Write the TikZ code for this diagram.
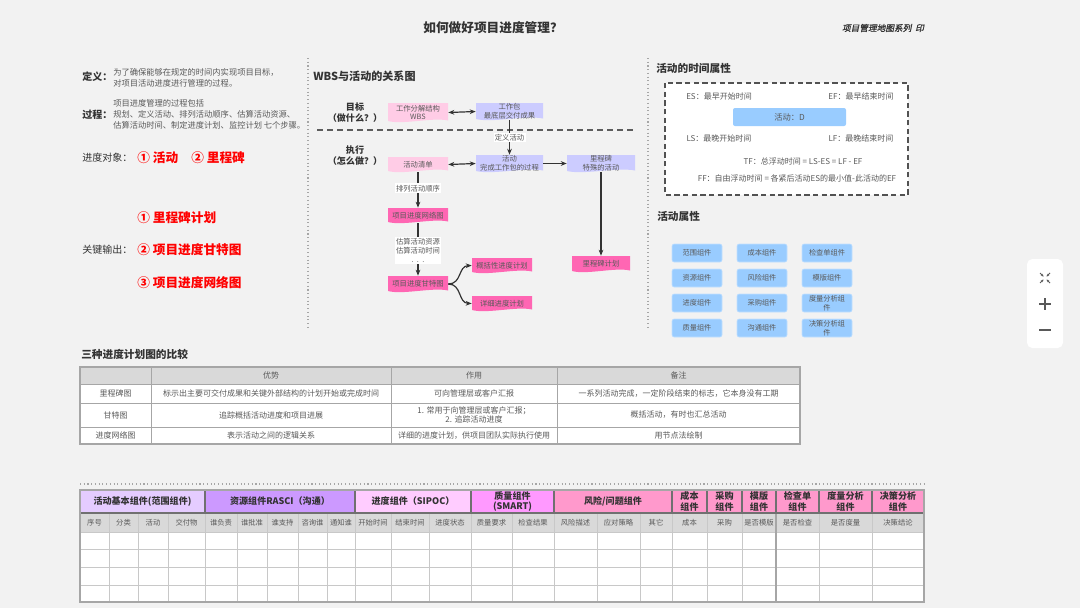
\documentclass[tikz,border=0pt]{standalone}
\usepackage{fontspec}
\setmainfont{Noto Sans CJK SC}
\newfontfamily\slfont[FakeSlant=0.2,FakeBold=1.2]{Noto Sans CJK SC}
\usetikzlibrary{arrows.meta,calc}
\definecolor{bg}{HTML}{F2F2F2}
\definecolor{ink}{HTML}{333333}
\definecolor{soft}{HTML}{595959}
\definecolor{lpink}{HTML}{FFCCE6}
\definecolor{lav}{HTML}{CCCCFF}
\definecolor{hpink}{HTML}{FF66B3}
\definecolor{sky}{HTML}{99CCFF}
\definecolor{hdr}{HTML}{D9D9D9}
\definecolor{grid}{HTML}{A6A6A6}
\definecolor{lgrid}{HTML}{C8C8C8}
\definecolor{dgrid}{HTML}{707070}
\definecolor{gA}{HTML}{E5CCFF}
\definecolor{gB}{HTML}{CC99FF}
\definecolor{gC}{HTML}{FFCCFF}
\definecolor{gD}{HTML}{FF99FF}
\definecolor{gE}{HTML}{FF99CC}
\definecolor{redc}{HTML}{FF0000}
\newcommand\fs[1]{\fontsize{#1pt}{\dimexpr#1pt*6/5\relax}\selectfont}
\newcommand\docbox[7]{%
 \fill[#6] ({#2-#4/2},{#3-#5/2}) -- ({#2+#4/2},{#3-#5/2}) -- ({#2+#4/2},{#3+#5/2-1.5}) .. controls ({#2+#4/4},{#3+#5/2-5}) and ({#2-#4/4},{#3+#5/2+3}) .. ({#2-#4/2},{#3+#5/2-1}) -- cycle;
 \node[boxt, minimum width={#4*0.75pt}, minimum height={#5*0.75pt}] (#1) at (#2,#3) {#7};
}
\begin{document}
\begin{tikzpicture}[x=0.75pt,y=-0.75pt,
 >={Stealth[length=4.5pt,width=3.5pt]},
 txt/.style={inner sep=0pt,text=soft,font=\fs{6.2}},
 headt/.style={inner sep=0pt,text=ink,font=\fs{8}\bfseries},
 redt/.style={inner sep=0pt,text=redc,font=\fs{9.5}\bfseries},
 boxt/.style={inner sep=0pt,text=soft,font=\fs{5.5},align=center},
 arr/.style={draw=ink, line width=0.9pt},
 lbl/.style={fill=white,inner sep=1pt,text=soft,font=\fs{5.5},align=center},
 sepline/.style={draw=grid, dotted, line width=0.8pt},
 attr/.style={fill=sky, draw=sky!60!white, rounded corners=1.5pt, minimum width=37.5pt, minimum height=13.5pt, inner sep=0pt, text=soft, font=\fs{5.4}, align=center},
 cell/.style={inner sep=0pt,text=soft,font=\fs{6},align=center},
 ghead/.style={inner sep=0pt,text=ink,font=\fs{6.8}\bfseries,align=center},
 shead/.style={inner sep=0pt,text=soft,font=\fs{5.5}},
]
\fill[bg] (0,0) rectangle (1080,608);
\useasboundingbox (0,0) rectangle (1080,608);

% title
\node[inner sep=0pt,text=ink,font=\fs{9.5}\bfseries] (title) at (493,28) {如何做好项目进度管理？};
\node[inner sep=0pt,text=ink,font=\fs{6.5}\slfont] (series) at (883,28) {项目管理地图系列\ \ 印};

% separators
\draw[sepline] (308,58) -- (308,328);
\draw[sepline] (648,58) -- (648,328);

% left column
\node[headt,anchor=west,font=\fs{7.5}\bfseries] (defh) at (82,77) {定义：};
\node[txt,anchor=west] (def1) at (113,72) {为了确保能够在规定的时间内实现项目目标，};
\node[txt,anchor=west] (def2) at (113,83) {对项目活动进度进行管理的过程。};
\node[headt,anchor=west,font=\fs{7.5}\bfseries] (proch) at (82,115) {过程：};
\node[txt,anchor=west] (proc1) at (113,103.5) {项目进度管理的过程包括};
\node[txt,anchor=west] (proc2) at (113,114.5) {规划、定义活动、排列活动顺序、估算活动资源、};
\node[txt,anchor=west] (proc3) at (113,125) {估算活动时间、制定进度计划、监控计划 七个步骤。};
\node[inner sep=0pt,text=ink,font=\fs{7.5},anchor=west] (objh) at (82,158) {进度对象：};
\node[redt,anchor=west] (obj1) at (137,158) {① 活动};
\node[redt,anchor=west] (obj2) at (191,158) {② 里程碑};
\node[redt,anchor=west] (out1) at (137,218) {① 里程碑计划};
\node[inner sep=0pt,text=ink,font=\fs{7.5},anchor=west] (outh) at (82,250) {关键输出：};
\node[redt,anchor=west] (out2) at (137,250) {② 项目进度甘特图};
\node[redt,anchor=west] (out3) at (137,283) {③ 项目进度网络图};

% middle: WBS diagram
\node[headt,anchor=west,font=\fs{8.3}\bfseries] (wbsh) at (313,76) {WBS与活动的关系图};
\node[inner sep=0pt,text=ink,font=\fs{6.8}\bfseries,align=center] (goal) at (355,112.5) {目标\\（做什么？）};
\node[inner sep=0pt,text=ink,font=\fs{6.8}\bfseries,align=center] (exec) at (355,156) {执行\\（怎么做？）};
\draw[dashed, draw=ink!80, line width=0.9pt, dash pattern=on 4.5pt off 3pt] (317,130) -- (637,130);

\docbox{wbs}{418}{112.5}{60}{19}{lpink}{工作分解结构\\WBS}
\docbox{wp}{509.5}{111.5}{67}{17}{lav}{工作包\\最底层交付成果}
\docbox{actlist}{418}{164.5}{60}{15}{lpink}{活动清单}
\docbox{act}{509.5}{163.5}{67}{17}{lav}{活动\\完成工作包的过程}
\docbox{ms}{601}{163.5}{68}{17}{lav}{里程碑\\特殊的活动}
\docbox{net}{418}{215.5}{60}{15}{hpink}{项目进度网络图}
\docbox{gantt}{418}{284}{60}{16}{hpink}{项目进度甘特图}
\docbox{summ}{502}{265.5}{60}{15}{hpink}{概括性进度计划}
\docbox{det}{502}{303.5}{60}{15}{hpink}{详细进度计划}
\docbox{msplan}{601}{264}{58}{16}{hpink}{里程碑计划}

\draw[arr,<->] (wbs.east) -- (wp.west);
\draw[arr,->] (wp.south) -- node[lbl] (l1) {定义活动} (act.north);
\draw[arr,<->] (actlist.east) -- (act.west);
\draw[arr,->] (act.east) -- (ms.west);
\draw[arr,->] (ms.south) -- (msplan.north);
\draw[arr,->] (actlist.south) -- node[lbl,pos=0.45] (l2) {排列活动顺序} (net.north);
\draw[arr,->] (net.south) -- node[lbl,pos=0.52] (l3) {估算活动资源\\估算活动时间\\.\ \ .\ \ .} (gantt.north);
\draw[arr,->] (gantt.east) .. controls (462,284) and (458,266) .. (summ.west);
\draw[arr,->] (gantt.east) .. controls (462,284) and (458,303) .. (det.west);

% right: time attributes
\node[headt,anchor=west] (timeh) at (656,68) {活动的时间属性};
\draw[fill=white, draw=ink!85, line width=0.9pt, dash pattern=on 4pt off 2.5pt] (665,83) rectangle (908,195);
\node[txt,font=\fs{6}] (es) at (719,96) {ES：最早开始时间};
\node[txt,font=\fs{6}] (ef) at (861,96) {EF：最早结束时间};
\node[fill=sky, rounded corners=1.5pt, minimum width=84.75pt, minimum height=13.5pt, inner sep=0pt, text=soft, font=\fs{6.2}] (actd) at (789.5,117) {活动：D};
\node[txt,font=\fs{6}] (ls) at (719,138) {LS：最晚开始时间};
\node[txt,font=\fs{6}] (lf) at (861,138) {LF：最晚结束时间};
\node[txt,font=\fs{6}] (tf) at (803,161.5) {TF：总浮动时间 = LS-ES = LF - EF};
\node[txt,font=\fs{6}] (ff) at (797,178.5) {FF：自由浮动时间 = 各紧后活动ES的最小值-此活动的EF};

% activity attributes
\node[headt,anchor=west] (attrh) at (657,216) {活动属性};
\node[attr] (a1) at (697,253) {范围组件};
\node[attr] (a2) at (762,253) {成本组件};
\node[attr] (a3) at (827,253) {检查单组件};
\node[attr] (a4) at (697,278) {资源组件};
\node[attr] (a5) at (762,278) {风险组件};
\node[attr] (a6) at (827,278) {模版组件};
\node[attr] (a7) at (697,303) {进度组件};
\node[attr] (a8) at (762,303) {采购组件};
\node[attr] (a9) at (827,303) {度量分析组\\件};
\node[attr] (a10) at (697,328) {质量组件};
\node[attr] (a11) at (762,328) {沟通组件};
\node[attr] (a12) at (827,328) {决策分析组\\件};

% zoom controls
\fill[white, rounded corners=4pt] (1027,259) rectangle (1063,348);
\begin{scope}[draw=soft, line width=0.6pt]
 \draw[-{Stealth[length=2pt,width=2pt]}] (1040,273) -- (1043.5,276.5);
 \draw[-{Stealth[length=2pt,width=2pt]}] (1050,273) -- (1046.5,276.5);
 \draw[-{Stealth[length=2pt,width=2pt]}] (1040,283) -- (1043.5,279.5);
 \draw[-{Stealth[length=2pt,width=2pt]}] (1050,283) -- (1046.5,279.5);
 \draw[line width=0.8pt] (1039,304) -- (1051,304) (1045,298) -- (1045,310);
 \draw[line width=0.8pt] (1039,330) -- (1051,330);
\end{scope}

% comparison table
\node[headt,anchor=west] (cmph) at (81,354) {三种进度计划图的比较};
\fill[white] (80,367) rectangle (800,444);
\fill[hdr] (80,367) rectangle (800,384);
\foreach \y in {384,403,427} \draw[draw=grid,line width=0.6pt] (80,\y) -- (800,\y);
\foreach \x in {151,391,557} \draw[draw=grid,line width=0.6pt] (\x,367) -- (\x,444);
\draw[draw=grid,line width=0.9pt] (80,367) rectangle (800,444);
\node[cell] (c01) at (271,375.5) {优势};
\node[cell] (c02) at (474,375.5) {作用};
\node[cell] (c03) at (678.5,375.5) {备注};
\node[cell] (c10) at (115.5,393.5) {里程碑图};
\node[cell] (c11) at (271,393.5) {标示出主要可交付成果和关键外部结构的计划开始或完成时间};
\node[cell] (c12) at (474,393.5) {可向管理层或客户汇报};
\node[cell] (c13) at (678.5,393.5) {一系列活动完成，一定阶段结束的标志，它本身没有工期};
\node[cell] (c20) at (115.5,415) {甘特图};
\node[cell] (c21) at (271,415) {追踪概括活动进度和项目进展};
\node[cell] (c22) at (474,415) {1. 常用于向管理层或客户汇报；\\2. 追踪活动进度};
\node[cell] (c23) at (678.5,415) {概括活动，有时也汇总活动};
\node[cell] (c30) at (115.5,435.5) {进度网络图};
\node[cell] (c31) at (271,435.5) {表示活动之间的逻辑关系};
\node[cell] (c32) at (474,435.5) {详细的进度计划，供项目团队实际执行使用};
\node[cell] (c33) at (678.5,435.5) {用节点法绘制};

% bottom dotted line
\draw[sepline] (80,484) -- (925,484);

% bottom table
\fill[gA] (80,490) rectangle (205,513);
\fill[gB] (205,490) rectangle (355,513);
\fill[gC] (355,490) rectangle (471,513);
\fill[gD] (471,490) rectangle (554,513);
\fill[gE] (554,490) rectangle (924,513);
\fill[hdr] (80,513) rectangle (924,532);
\fill[white] (80,532) rectangle (924,602);
\foreach \y in {549,567,585} \draw[draw=lgrid,line width=0.6pt] (80,\y) -- (924,\y);
\draw[draw=lgrid,line width=0.6pt] (80,532) -- (924,532);
\foreach \x in {109,138,168,205,237,267,298,327,355,391,429,471,512,554,597,640,672,707,742,776,819,872}
  \draw[draw=lgrid,line width=0.6pt] (\x,513) -- (\x,602);
\draw[draw=grid,line width=0.8pt] (776,513) -- (776,602);
\foreach \x in {205,355,471,554,672,707,742,776,819,872}
  \draw[draw=dgrid,line width=0.9pt] (\x,490) -- (\x,513);
\draw[draw=dgrid,line width=1pt] (80,513) -- (924,513);
\draw[draw=dgrid,line width=1.1pt] (80,490) rectangle (924,513);
\draw[draw=grid,line width=0.9pt] (80,490) rectangle (924,602);

\node[ghead] (g1) at (142.5,501.5) {活动基本组件(范围组件)};
\node[ghead] (g2) at (280,501.5) {资源组件RASCI（沟通）};
\node[ghead] (g3) at (413,501.5) {进度组件（SIPOC）};
\node[ghead] (g4) at (512.5,501.5) {质量组件\\(SMART)};
\node[ghead] (g5) at (613,501.5) {风险/问题组件};
\node[ghead] (g6) at (689.5,501.5) {成本\\组件};
\node[ghead] (g7) at (724.5,501.5) {采购\\组件};
\node[ghead] (g8) at (759,501.5) {模版\\组件};
\node[ghead] (g9) at (797.5,501.5) {检查单\\组件};
\node[ghead] (g10) at (845.5,501.5) {度量分析\\组件};
\node[ghead] (g11) at (898,501.5) {决策分析\\组件};

\foreach \a/\b/\s in {80/109/序号,109/138/分类,138/168/活动,168/205/交付物,205/237/谁负责,237/267/谁批准,267/298/谁支持,298/327/咨询谁,327/355/通知谁,355/391/开始时间,391/429/结束时间,429/471/进度状态,471/512/质量要求,512/554/检查结果,554/597/风险描述,597/640/应对策略,640/672/其它,672/707/成本,707/742/采购,742/776/是否模版,776/819/是否检查,819/872/是否度量,872/924/决策结论}
  \node[shead] (sh\a) at ({(\a+\b)/2},522.5) {\s};
\end{tikzpicture}
\end{document}
